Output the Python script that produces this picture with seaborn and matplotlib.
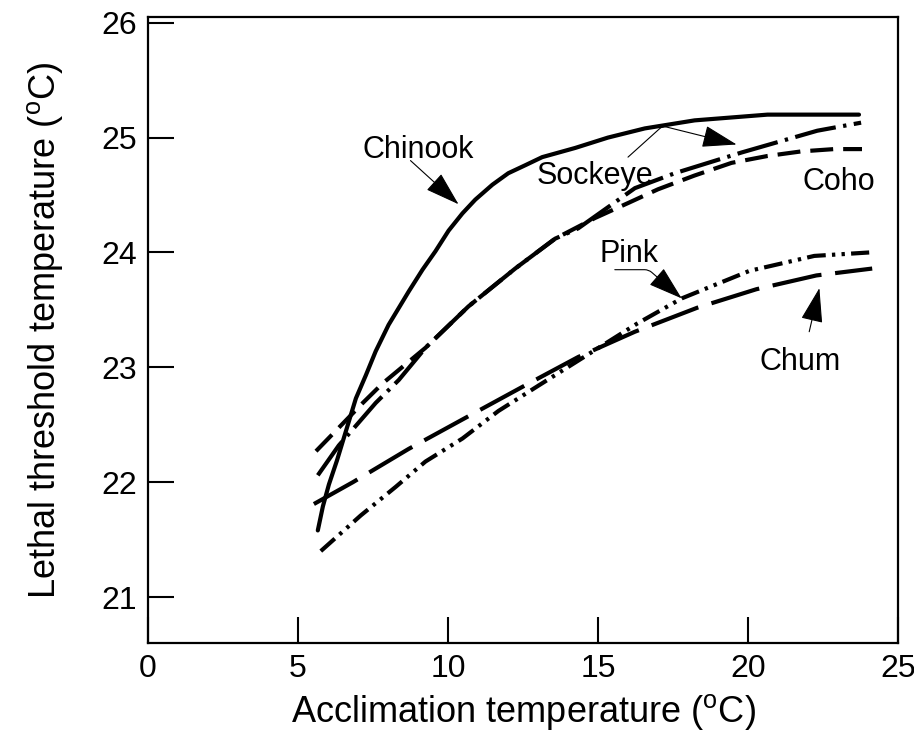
import matplotlib
matplotlib.use("Agg")
import matplotlib.pyplot as plt
import pandas as pd
import seaborn as sns

# values
chinook_x = [5.66, 5.83, 6.03, 6.30, 6.93, 7.26, 7.59, 8.02, 8.69, 9.15, 9.58, 10.02, 10.48, 10.91,
             11.48, 12.01, 12.58, 13.14, 14.24, 15.33, 16.56, 18.22, 20.65, 23.70]
chinook_y = [21.58, 21.79, 21.98, 22.19, 22.73, 22.93, 23.14, 23.37, 23.66, 23.85, 24.01, 24.19, 24.34, 24.46,
             24.59, 24.69, 24.76, 24.83, 24.91, 25.00, 25.08, 25.15, 25.20, 25.20]

coho_x = [5.60, 6.53, 7.16, 7.82, 9.25, 10.68, 12.24, 13.57, 14.90, 16.00, 17.00, 18.22, 19.45, 20.65, 21.78, 22.87, 23.80]
coho_y = [22.27, 22.52, 22.69, 22.86, 23.17, 23.53, 23.86, 24.12, 24.30, 24.43, 24.55, 24.67, 24.78, 24.84, 24.88, 24.90, 24.90]

sockeye_x = [5.66, 6.36, 6.76, 7.59, 8.36, 9.25, 10.68, 12.24, 13.57, 14.34, 16.23, 17.56, 19.78, 22.31, 23.77]
sockeye_y = [22.06, 22.32, 22.44, 22.69, 22.89, 23.17, 23.53, 23.86, 24.12, 24.21, 24.56, 24.69, 24.87, 25.06, 25.13]

chum_x = [5.53, 6.83, 8.69, 10.51, 12.48, 14.34, 16.23, 18.32, 20.28, 22.28, 24.14]
chum_y = [21.81, 22.00, 22.29, 22.55, 22.83, 23.09, 23.31, 23.52, 23.68, 23.80, 23.86]

pink_x = [5.76, 7.09, 8.26, 9.25, 10.48, 11.68, 13.01, 16.30, 17.79, 20.05, 22.21, 24.04]
pink_y = [21.40, 21.71, 21.96, 22.18, 22.38, 22.62, 22.84, 23.38, 23.60, 23.84, 23.97, 24.00]

species = ["Chinook", "Sockeye", "Coho", "Pink", "Chum"]
x_ticks = [0, 5, 10, 15, 20, 25]
y_ticks = [21, 22, 23, 24, 25, 26]

# build one long table for seaborn
frames = []
for name, xs, ys in [("Chinook", chinook_x, chinook_y), ("Sockeye", sockeye_x, sockeye_y),
                     ("Coho", coho_x, coho_y), ("Pink", pink_x, pink_y), ("Chum", chum_x, chum_y)]:
    frames.append(pd.DataFrame({"acclim": xs, "lethal": ys, "species": name}))
df = pd.concat(frames, ignore_index=True)

sns.set_style("ticks")
plt.rcParams["font.family"] = ["Liberation Sans", "DejaVu Sans"]
plt.rcParams["mathtext.fontset"] = "custom"
plt.rcParams["mathtext.rm"] = "Liberation Sans"
for key in ["text.color", "axes.labelcolor", "xtick.color", "ytick.color", "axes.edgecolor"]:
    plt.rcParams[key] = "black"

fig = plt.figure(figsize=(9.14, 7.34), dpi=100)
ax = fig.add_axes([148 / 914, 1 - 643 / 734, 750 / 914, 626 / 734])

line_dashes = {
    "Chinook": "",
    "Sockeye": (10, 1.8, 0.8, 1.8),
    "Coho": (5.5, 2.4),
    "Pink": (4.5, 1.5, 0.8, 1.5, 0.8, 1.5),
    "Chum": (12, 3.3),
}
sns.lineplot(data=df, x="acclim", y="lethal", hue="species", style="species",
             hue_order=species, style_order=species,
             palette=["black"] * 5, dashes=line_dashes, linewidth=3,
             legend=False, sort=True, estimator=None, ax=ax)

ax.set_xlim(0, 25)
ax.set_ylim(20.6, 26.05)
ax.set_xticks(x_ticks)
ax.set_yticks(y_ticks)
ax.tick_params(direction="in", length=19, width=1.5, labelsize=23, pad=8)
for side in ["left", "right", "top", "bottom"]:
    ax.spines[side].set_linewidth(1.6)

ax.set_xlabel(r"Acclimation temperature ($^{\mathrm{o}}$C)", fontsize=26, labelpad=6)
ax.set_ylabel(r"Lethal threshold temperature ($^{\mathrm{o}}$C)", fontsize=26, labelpad=26)

# curve labels and arrows
lab = dict(fontsize=22, ha="center", va="center")
ax.text(8.99, 24.89, "Chinook", **lab)
ax.text(14.90, 24.67, "Sockeye", **lab)
ax.text(23.04, 24.61, "Coho", **lab)
ax.text(16.03, 23.99, "Pink", **lab)
ax.text(21.74, 23.05, "Chum", **lab)

arrow = dict(arrowstyle="-|>,head_length=1.1,head_width=0.35", color="black",
             lw=0.8, mutation_scale=20, shrinkA=0, shrinkB=0)
ax.annotate("", xy=(10.35, 24.42), xytext=(8.75, 24.80),
            arrowprops=dict(arrow, connectionstyle="arc3"))
ax.annotate("", xy=(19.62, 24.94), xytext=(16.0, 24.83),
            arrowprops=dict(arrow, connectionstyle="angle,angleA=42,angleB=-14,rad=4"))
ax.annotate("", xy=(17.79, 23.60), xytext=(15.56, 23.85),
            arrowprops=dict(arrow, connectionstyle="angle,angleA=0,angleB=-41,rad=4"))
ax.annotate("", xy=(22.38, 23.69), xytext=(22.04, 23.31),
            arrowprops=dict(arrow, connectionstyle="arc3"))

fig.savefig("out.png", dpi=100)
